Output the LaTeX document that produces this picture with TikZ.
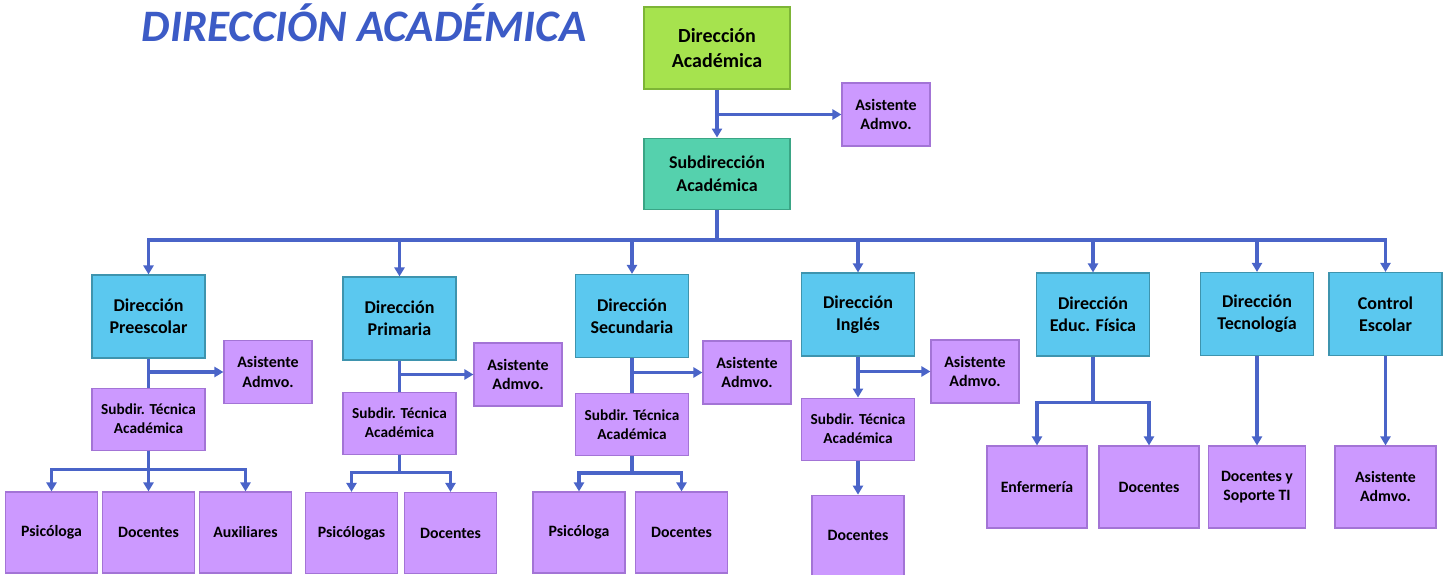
\documentclass[tikz,border=0pt]{standalone}
\usepackage{fontspec}
\setmainfont{Carlito}
\usepackage{xcolor}
\usetikzlibrary{positioning,arrows.meta}

\definecolor{verde}{HTML}{A6E34E}
\definecolor{verdeborde}{HTML}{7DB536}
\definecolor{turquesa}{HTML}{55D1AD}
\definecolor{turquesaborde}{HTML}{3AA585}
\definecolor{celeste}{HTML}{5BC8EF}
\definecolor{celesteborde}{HTML}{3E94AE}
\definecolor{lila}{HTML}{CC99FF}
\definecolor{lilaborde}{HTML}{A374D6}
\definecolor{conector}{HTML}{4A64C8}
\definecolor{titulo}{HTML}{3C5BC6}

\begin{document}
\begin{tikzpicture}[x=1pt, y=-1pt, node distance=30pt,
    >={Triangle[length=9pt,width=10pt]},
    caja/.style={rectangle, draw, line width=1.1pt, inner sep=2pt, align=center},
    jefe/.style={caja, fill=verde, draw=verdeborde, minimum width=146pt, minimum height=82pt,
        font=\bfseries\fontsize{20}{25.5}\selectfont},
    subjefe/.style={caja, fill=turquesa, draw=turquesaborde, minimum width=146pt, minimum height=71pt,
        font=\bfseries\fontsize{18}{22.5}\selectfont},
    dir/.style={caja, fill=celeste, draw=celesteborde, minimum width=113pt, minimum height=83pt,
        font=\bfseries\fontsize{18}{22}\selectfont},
    asis/.style={caja, fill=lila, draw=lilaborde, minimum width=88pt, minimum height=63pt,
        font=\bfseries\fontsize{16}{19.5}\selectfont},
    subdir/.style={caja, fill=lila, draw=lilaborde, minimum width=113pt, minimum height=62pt,
        font=\bfseries\fontsize{15.3}{19}\selectfont},
    base/.style={caja, fill=lila, draw=lilaborde, minimum width=92pt, minimum height=81pt,
        font=\bfseries\fontsize{15.8}{19}\selectfont},
    baseancha/.style={base, minimum width=100pt, minimum height=82pt},
    linea/.style={draw=conector, line width=3.4pt}
]
    \useasboundingbox (0,0) rectangle (1446,575);

    % titulo
    \node[anchor=base, text=titulo, font=\bfseries\itshape\fontsize{45}{50}\selectfont] (tit) at (364,42) {DIRECCIÓN ACADÉMICA};

    % nivel superior
    \node[jefe] (top) at (717,48) {Dirección\\Académica};
    \node[subjefe, below=48pt of top] (sub) {Subdirección\\Académica};
    \node[asis] (asis0) at (886,114.5) {Asistente\\Admvo.};

    % direcciones
    \node[dir] (pre) at (148.5,316.5) {Dirección\\Preescolar};
    \node[dir] (pri) at (399.5,318.5) {Dirección\\Primaria};
    \node[dir] (sec) at (632,316) {Dirección\\Secundaria};
    \node[dir] (ing) at (858,314.5) {Dirección\\Inglés};
    \node[dir] (edf) at (1093,314.5) {Dirección\\Educ. Física};
    \node[dir] (tec) at (1257,314) {Dirección\\Tecnología};
    \node[dir] (ces) at (1385.5,314) {Control\\Escolar};

    % asistentes
    \node[asis] (asipre) at (268,372) {Asistente\\Admvo.};
    \node[asis] (asipri) at (518,374.5) {Asistente\\Admvo.};
    \node[asis] (asisec) at (747,372.5) {Asistente\\Admvo.};
    \node[asis] (asiing) at (975,371.5) {Asistente\\Admvo.};

    % subdirecciones tecnicas
    \node[subdir, below=29pt of pre] (subpre) {Subdir. Técnica\\Académica};
    \node[subdir, below=31pt of pri] (subpri) {Subdir. Técnica\\Académica};
    \node[subdir, below=35pt of sec] (subsec) {Subdir. Técnica\\Académica};
    \node[subdir, below=41pt of ing] (subing) {Subdir. Técnica\\Académica};

    % personal
    \node[base] (psipre) at (51.5,532.5) {Psicóloga};
    \node[base] (docpre) at (148.5,532.5) {Docentes};
    \node[base] (auxpre) at (245.5,532.5) {Auxiliares};
    \node[base] (psipri) at (351.5,533) {Psicólogas};
    \node[base] (docpri) at (450.5,533) {Docentes};
    \node[base] (psisec) at (579,532.5) {Psicóloga};
    \node[base] (docsec) at (681.5,532.5) {Docentes};
    \node[base, below=34pt of subing] (docing) {Docentes};
    \node[baseancha] (enf) at (1037,487) {Enfermería};
    \node[baseancha] (docedf) at (1149,487) {Docentes};
    \node[baseancha, minimum width=97pt] (doctec) at (1257,487) {Docentes y\\Soporte TI};
    \node[baseancha, minimum width=101pt] (asices) at (1385.5,487) {Asistente\\Admvo.};

    % conectores superiores
    \draw[linea, ->] (top) -- (sub);
    \draw[linea, ->] (top.south |- asis0.west) -- (asis0.west);
    \coordinate (bus) at (717,240);
    \draw[linea] (sub.south) -- (bus);
    \foreach \n in {pre,pri,sec,ing,edf,tec,ces}
        \draw[linea, ->] (bus) -| (\n.north);

    % preescolar
    \draw[linea] (pre) -- (subpre);
    \draw[linea, ->] (pre.south |- asipre.west) -- (asipre.west);
    \draw[linea, ->] (subpre.south) -- ++(0,19) -| (psipre.north);
    \draw[linea, ->] (subpre.south) -- ++(0,19) -| (auxpre.north);
    \draw[linea, ->] (subpre.south) -- (docpre.north);

    % primaria
    \draw[linea] (pri) -- (subpri);
    \draw[linea, ->] (pri.south |- asipri.west) -- (asipri.west);
    \draw[linea, ->] (subpri.south) -- ++(0,18) -| (psipri.north);
    \draw[linea, ->] (subpri.south) -- ++(0,18) -| (docpri.north);

    % secundaria
    \draw[linea] (sec) -- (subsec);
    \draw[linea, ->] (sec.south |- asisec.west) -- (asisec.west);
    \draw[linea, ->] (subsec.south) -- ++(0,17) -| (psisec.north);
    \draw[linea, ->] (subsec.south) -- ++(0,17) -| (docsec.north);

    % ingles
    \draw[linea, ->] (ing) -- (subing);
    \draw[linea, ->] (ing.south |- asiing.west) -- (asiing.west);
    \draw[linea, ->] (subing) -- (docing);

    % educ. fisica, tecnologia, control escolar
    \draw[linea, ->] (edf.south) -- ++(0,46) -| (enf.north);
    \draw[linea, ->] (edf.south) -- ++(0,46) -| (docedf.north);
    \draw[linea, ->] (tec) -- (doctec);
    \draw[linea, ->] (ces) -- (asices);
\end{tikzpicture}
\end{document}
